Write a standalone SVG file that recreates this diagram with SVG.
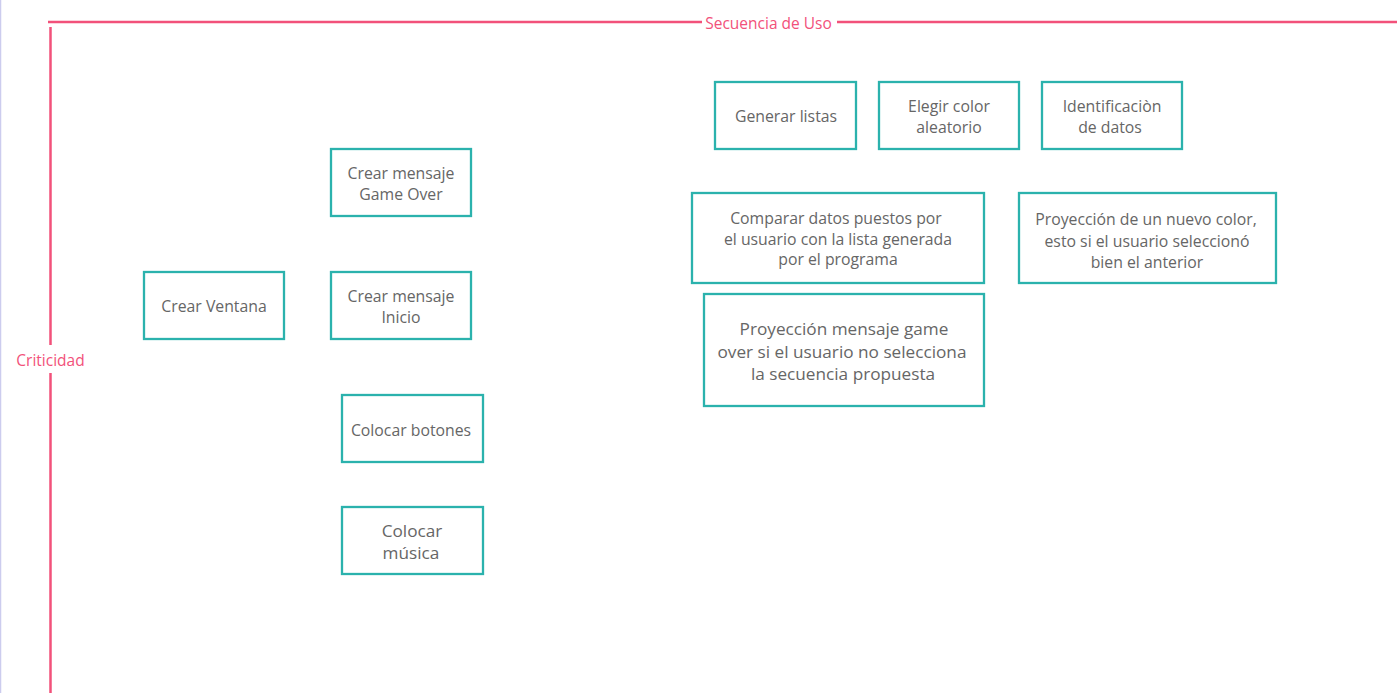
<svg xmlns="http://www.w3.org/2000/svg" width="1397" height="693" viewBox="0 0 1397 693">
<style>
.axis{stroke:#f2517a;stroke-width:2.5;fill:none}
.axlbl{font-family:"Open Sans","Noto Sans",sans-serif;font-size:15.5px;fill:#f2517a}
.box{fill:#ffffff;stroke:#2bb2ad;stroke-width:2.3}
.t{font-family:"Open Sans","Noto Sans",sans-serif;font-size:15.8px;fill:#666666;text-anchor:middle}
.tb{font-family:"Open Sans","Noto Sans",sans-serif;font-size:17.2px;fill:#666666;text-anchor:middle}
</style>
<rect x="0" y="0" width="1397" height="693" fill="#ffffff"/>
<line x1="0.5" y1="0" x2="0.5" y2="693" stroke="#ccccee" stroke-width="1.5"/>
<g id="axes">
<line class="axis" x1="48" y1="22" x2="702" y2="22"/>
<line class="axis" x1="837" y1="22" x2="1397" y2="22"/>
<text class="axlbl" x="768.5" y="29" text-anchor="middle">Secuencia de Uso</text>
<line class="axis" x1="50.5" y1="27" x2="50.5" y2="345"/>
<line class="axis" x1="50.5" y1="373" x2="50.5" y2="693"/>
<text class="axlbl" x="50.5" y="366" text-anchor="middle">Criticidad</text>
</g>
<g id="connectors"></g>
<g id="crear-ventana"><rect class="box" x="144" y="272" width="140" height="67"/><text class="t" x="214" y="312">Crear Ventana</text></g>
<g id="crear-game-over"><rect class="box" x="331" y="149" width="140" height="67"/><text class="t" x="401" y="179">Crear mensaje</text><text class="t" x="401" y="200">Game Over</text></g>
<g id="crear-inicio"><rect class="box" x="331" y="272" width="140" height="67"/><text class="t" x="401" y="302">Crear mensaje</text><text class="t" x="401" y="323">Inicio</text></g>
<g id="colocar-botones"><rect class="box" x="342" y="395" width="141" height="67"/><text class="t" x="411" y="436">Colocar botones</text></g>
<g id="colocar-musica"><rect class="box" x="342" y="507" width="141" height="67"/><text class="tb" x="412" y="537">Colocar</text><text class="tb" x="411" y="559">música</text></g>
<g id="generar-listas"><rect class="box" x="715" y="82" width="141" height="67"/><text class="t" x="786" y="122">Generar listas</text></g>
<g id="elegir-color"><rect class="box" x="879" y="82" width="140" height="67"/><text class="t" x="949" y="112">Elegir color</text><text class="t" x="949" y="133">aleatorio</text></g>
<g id="identificacion"><rect class="box" x="1042" y="82" width="140" height="67"/><text class="t" x="1112" y="112">Identificaciòn</text><text class="t" x="1110" y="133">de datos</text></g>
<g id="comparar"><rect class="box" x="692" y="193" width="292" height="90"/><text class="t" x="836" y="224">Comparar datos puestos por</text><text class="t" x="838" y="245">el usuario con la lista generada</text><text class="t" x="838" y="265">por el programa</text></g>
<g id="proyeccion-color"><rect class="box" x="1019" y="193" width="257" height="90"/><text class="t" x="1146" y="225">Proyección de un nuevo color,</text><text class="t" x="1147" y="247">esto si el usuario seleccionó</text><text class="t" x="1147" y="268">bien el anterior</text></g>
<g id="proyeccion-game-over"><rect class="box" x="704" y="294" width="280" height="112"/><text class="tb" x="844" y="335">Proyección mensaje game</text><text class="tb" x="842" y="358">over si el usuario no selecciona</text><text class="tb" x="843" y="380">la secuencia propuesta</text></g>
</svg>
